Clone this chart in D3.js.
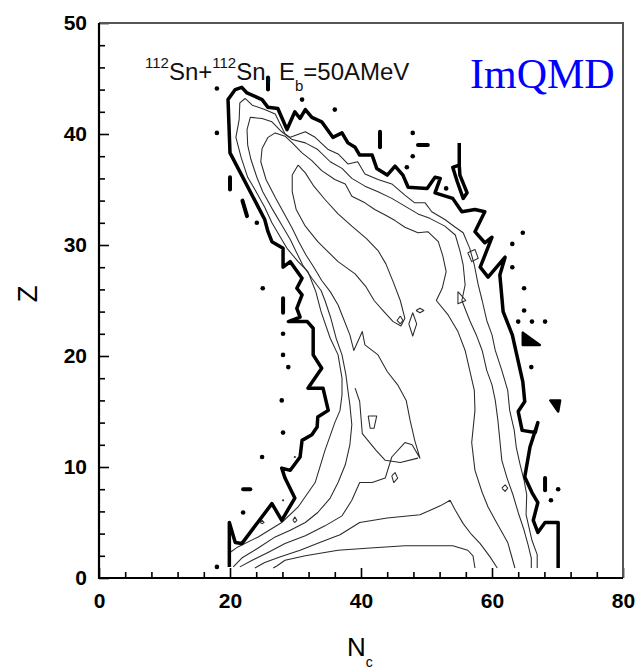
<!DOCTYPE html>
<html>
<head>
<meta charset="utf-8">
<script src="https://cdn.jsdelivr.net/npm/d3@7"></script>
<style>
  body { margin: 0; background: #fff; }
  svg { display: block; font-family: "Liberation Sans", Arial, sans-serif; }
</style>
</head>
<body>
<svg id="chart" width="636" height="672"></svg>
<script>
// tick values
var xMajor = [0, 20, 40, 60, 80];
var xMinor = [4, 8, 12, 16, 24, 28, 32, 36, 44, 48, 52, 56, 64, 68, 72, 76];
var yMajor = [0, 10, 20, 30, 40, 50];
var yMinor = [2, 4, 6, 8, 12, 14, 16, 18, 22, 24, 26, 28, 32, 34, 36, 38, 42, 44, 46, 48];

// outermost (thick) contour, [N_c, Z]
var thickContour = [[19.9,1.0],[19.9,5.0],[20.8,3.2],[21.8,3.1],[26.4,6.7],[27.9,5.2],[29.9,7.2],[28.4,9.0],[27.9,9.9],[29.2,9.7],[30.7,10.9],[31.0,12.4],[32.5,12.9],[33.3,13.6],[33.4,14.5],[35.0,15.1],[34.2,17.1],[31.9,17.1],[34.0,18.9],[32.7,20.1],[32.7,22.5],[31.8,23.1],[28.9,23.1],[30.7,23.5],[30.2,24.3],[31.0,25.5],[30.2,26.1],[31.0,27.0],[29.2,28.5],[28.1,28.0],[28.1,29.7],[26.4,30.3],[25.8,31.2],[25.3,32.3],[20.8,37.4],[20.0,38.3],[19.7,43.1],[20.8,44.0],[21.8,44.2],[22.6,43.7],[24.9,43.1],[25.8,42.4],[27.3,42.3],[28.7,40.4],[29.9,42.0],[30.7,41.4],[31.5,42.2],[32.5,41.5],[34.0,41.1],[35.7,39.7],[37.1,40.1],[38.0,39.2],[39.1,38.8],[39.8,38.1],[41.7,38.1],[42.4,36.9],[44.0,36.3],[45.2,37.1],[46.4,36.3],[47.2,35.2],[50.1,35.1],[51.3,36.1],[52.1,36.0],[51.3,34.7],[54.0,34.2],[55.4,33.0],[57.4,33.2],[58.9,33.0],[57.4,31.2],[58.9,30.2],[60.0,30.7],[58.2,28.0],[59.4,27.1],[62.0,28.9],[61.2,27.3],[61.7,24.0],[63.1,21.9],[64.7,17.7],[65.0,15.9],[64.0,15.0],[64.6,13.3],[66.6,13.1],[67.0,14.0],[65.8,11.8],[65.0,9.1],[66.1,7.7],[67.0,6.8],[66.3,5.2],[67.0,4.1],[68.1,5.0],[70.1,5.0],[70.1,0.9]];
var thickIsland = [[55.0,39.2],[55.0,37.2],[54.0,37.0],[54.7,35.7],[55.6,34.2],[56.2,34.7],[55.1,36.3],[55.0,37.2]];

// thin contour levels, outer to inner
var level1 = [[20.0,2.3],[21.2,2.8],[24.3,3.7],[27.9,5.0],[30.4,6.4],[33.0,8.6],[34.5,11.5],[36.0,14.0],[36.8,15.1],[37.1,16.5],[37.1,18.0],[36.5,20.1],[35.3,21.6],[33.9,24.0],[33.1,25.8],[32.7,26.4],[31.9,27.6],[30.4,28.5],[28.7,29.7],[27.9,30.5],[26.4,32.0],[25.3,33.4],[23.8,35.0],[22.7,36.1],[21.7,37.9],[20.9,39.7],[21.4,41.3],[21.5,42.8],[22.3,43.2],[23.4,42.6],[25.3,42.2],[26.9,41.8],[28.4,40.0],[29.2,39.7],[31.5,40.2],[33.0,39.7],[35.0,38.6],[36.5,38.2],[38.0,37.3],[39.5,37.5],[40.6,36.4],[42.6,35.9],[44.7,35.5],[46.7,34.5],[48.2,33.8],[49.8,33.8],[50.8,33.0],[52.8,32.3],[54.4,31.6],[55.6,31.1],[56.6,29.7],[57.3,28.2],[57.9,26.4],[58.5,25.0],[59.2,23.2],[60.0,21.9],[60.5,20.5],[61.5,18.7],[62.4,16.9],[62.7,15.1],[63.4,13.3],[63.7,11.8],[64.3,10.2],[64.9,8.8],[65.3,7.5],[65.2,5.7],[66.1,3.4],[66.9,2.1],[66.9,0.9]];
var level2 = [[20.5,1.0],[21.8,1.8],[24.3,2.7],[26.9,3.7],[29.2,4.3],[31.5,5.0],[33.4,5.9],[35.3,7.2],[36.5,8.6],[37.6,10.2],[38.3,12.0],[38.6,13.8],[38.3,15.6],[38.0,16.9],[37.7,18.3],[37.1,20.1],[36.2,21.6],[35.4,23.4],[34.5,25.0],[33.9,25.9],[32.5,27.0],[31.1,28.2],[30.1,29.4],[29.2,30.5],[27.9,31.8],[26.4,33.3],[25.0,34.8],[24.1,36.1],[23.2,37.7],[22.7,39.0],[22.6,40.4],[23.1,41.5],[24.9,41.4],[26.4,41.1],[27.9,40.2],[29.5,39.5],[31.5,39.2],[33.4,38.6],[35.3,37.5],[37.1,36.9],[38.6,36.0],[40.6,35.3],[42.6,34.8],[44.7,34.2],[46.7,33.5],[48.7,32.8],[50.5,32.4],[52.8,31.7],[54.4,30.9],[55.1,29.5],[55.6,28.2],[55.9,26.4],[55.4,25.0],[56.6,23.2],[57.6,21.9],[58.5,20.5],[59.2,18.7],[60.0,17.4],[60.5,16.0],[60.9,14.2],[61.2,12.4],[61.5,10.6],[62.3,9.0],[63.2,7.5],[64.0,5.9],[64.9,4.3],[65.5,3.0],[66.0,1.8],[66.0,0.9]];
var level3 = [[21.5,1.0],[23.4,1.6],[25.8,2.3],[28.4,3.1],[31.5,3.8],[34.5,4.7],[37.1,5.6],[38.6,7.0],[39.8,8.6],[41.7,8.6],[43.7,9.0],[44.7,10.9],[46.7,12.2],[47.8,12.0],[49.0,10.8],[48.2,12.4],[47.5,14.2],[46.9,16.0],[45.6,17.4],[44.0,18.6],[42.6,20.1],[40.6,21.0],[40.2,22.2],[38.9,20.5],[38.3,21.9],[37.3,23.4],[36.5,24.6],[35.3,25.8],[34.0,26.8],[32.8,28.0],[31.6,29.1],[30.5,30.3],[29.5,31.5],[28.2,32.9],[26.9,34.3],[25.5,35.9],[24.7,37.5],[24.9,38.7],[25.8,39.7],[26.9,40.1],[28.4,39.8],[29.5,39.2],[31.0,38.3],[32.5,37.6],[34.0,36.7],[36.0,35.9],[37.6,35.5],[38.6,34.4],[40.6,33.8],[42.1,33.2],[43.7,32.7],[45.2,32.2],[46.7,31.6],[48.7,31.1],[50.2,31.2],[51.8,30.3],[52.5,29.0],[53.0,27.6],[52.4,26.1],[51.5,25.0],[53.3,23.7],[54.8,22.2],[55.9,20.5],[56.6,18.7],[57.3,16.9],[57.4,15.1],[56.9,12.2],[57.4,9.7],[58.5,7.7],[59.4,6.4],[60.5,5.2],[62.4,3.2],[63.5,0.9]];
var level4 = [[23.8,0.9],[25.3,1.4],[27.6,1.9],[30.7,2.5],[33.7,3.2],[36.8,3.9],[39.8,5.0],[44.0,5.4],[49.0,5.7],[52.1,6.5],[53.6,7.0],[54.4,6.1],[55.6,4.9],[56.9,3.9],[58.2,3.1],[59.7,1.9],[60.8,0.9]];
var level5 = [[26.6,0.9],[27.2,1.1],[28.4,1.6],[31.5,2.0],[36.5,2.5],[41.4,2.7],[46.7,2.9],[54.0,2.9],[56.3,2.5],[57.1,2.0],[57.4,0.9]];
var ridge = [[30.4,37.2],[29.5,36.3],[29.5,34.8],[30.1,33.2],[31.5,31.7],[33.4,30.3],[36.5,28.5],[39.1,27.4],[40.8,26.2],[42.0,25.0],[43.5,24.0],[44.9,23.1],[46.1,22.7],[46.7,23.4],[46.0,25.0],[44.9,26.7],[43.8,28.3],[42.6,29.5],[40.8,30.6],[38.6,31.7],[36.5,32.8],[34.5,34.1],[32.8,35.3],[31.5,36.5],[30.4,37.2]];
var valley = [[39.1,17.1],[39.8,15.9],[40.2,13.0],[42.3,11.5],[43.7,10.6],[46.0,10.4],[48.7,10.8]];
var islands = [
  [[47.9,23.9],[48.5,22.9],[47.9,21.8],[47.3,22.9],[47.9,23.9]],
  [[46.0,23.6],[46.4,23.2],[46.0,22.9],[45.5,23.2],[46.0,23.6]],
  [[48.4,24.1],[49.0,24.3],[49.6,24.1],[49.0,23.9],[48.4,24.1]],
  [[56.3,29.3],[57.4,29.6],[57.9,28.8],[56.9,28.5],[56.3,29.3]],
  [[54.8,25.8],[56.0,25.0],[54.8,24.7],[54.8,25.8]],
  [[61.5,8.1],[62.0,8.4],[62.4,8.1],[62.0,7.8],[61.5,8.1]],
  [[41.1,14.6],[42.4,14.6],[42.0,13.5],[41.4,13.5],[41.1,14.6]],
  [[44.7,9.2],[45.2,9.5],[45.6,9.0],[45.0,8.6],[44.7,9.2]],
  [[24.6,5.0],[24.9,5.2],[25.2,5.0],[24.9,4.9],[24.6,5.0]],
  [[29.6,5.2],[29.9,5.5],[30.2,5.2],[29.9,5.0],[29.6,5.2]]
];

// isolated bins outside the outer contour
var specks = [[18.0,44.1],[18.0,40.1],[31.0,43.1],[36.0,42.2],[47.9,40.1],[47.9,38.0],[47.0,37.0],[53.0,35.1],[64.7,31.1],[63.1,30.1],[63.1,28.0],[64.9,26.1],[64.9,24.1],[64.0,23.1],[66.1,23.1],[68.1,23.1],[66.0,19.0],[24.1,32.0],[25.0,26.1],[28.1,22.0],[28.1,20.1],[28.9,19.0],[27.9,16.0],[28.1,13.1],[24.9,10.9],[22.0,5.9],[18.0,1.0],[70.1,8.0],[69.0,7.0]];
var smallSpecks = [[28.1,7.0],[29.9,10.9]];
var bars = [
  [[25.8,45.1],[25.8,44.0]],
  [[42.9,40.2],[42.9,38.8]],
  [[48.7,39.0],[50.2,39.0]],
  [[20.0,36.1],[20.0,35.0]],
  [[21.9,34.0],[22.6,32.6]],
  [[28.1,25.2],[28.1,23.9]],
  [[22.0,8.0],[23.1,8.0]],
  [[68.1,9.0],[68.1,7.9]]
];
var blobs = [
  [[64.7,22.1],[64.7,21.0],[67.3,21.0]],
  [[68.9,16.0],[70.4,16.0],[70.1,15.0]]
];

var svg = d3.select("#chart");

var x = d3.scaleLinear().domain([0, 80]).range([99, 623]);
var y = d3.scaleLinear().domain([0, 50]).range([578, 23]);

var line = d3.line()
  .x(function(d) { return x(d[0]); })
  .y(function(d) { return y(d[1]); });

var plot = svg.append("g");

// thin contours
plot.selectAll("path.thin")
  .data([level1, level2, level3, level4, level5, ridge, valley].concat(islands))
  .enter().append("path")
    .attr("class", "thin")
    .attr("d", line)
    .attr("fill", "none")
    .attr("stroke", "#2a2a2a")
    .attr("stroke-width", 1.05)
    .attr("stroke-linejoin", "round");

// thick outer contour
plot.selectAll("path.thick")
  .data([thickContour, thickIsland])
  .enter().append("path")
    .attr("class", "thick")
    .attr("d", line)
    .attr("fill", "none")
    .attr("stroke", "#000")
    .attr("stroke-width", 3.5)
    .attr("stroke-linejoin", "round");

plot.selectAll("path.blob")
  .data(blobs)
  .enter().append("path")
    .attr("d", function(d) { return line(d) + "Z"; })
    .attr("fill", "#000")
    .attr("stroke", "#000")
    .attr("stroke-width", 2.5)
    .attr("stroke-linejoin", "round");

plot.selectAll("path.bar")
  .data(bars)
  .enter().append("path")
    .attr("d", line)
    .attr("stroke", "#000")
    .attr("stroke-width", 4)
    .attr("stroke-linecap", "round");

plot.selectAll("circle.speck")
  .data(specks)
  .enter().append("circle")
    .attr("cx", function(d) { return x(d[0]); })
    .attr("cy", function(d) { return y(d[1]); })
    .attr("r", 2.3)
    .attr("fill", "#000");

plot.selectAll("circle.small")
  .data(smallSpecks)
  .enter().append("circle")
    .attr("cx", function(d) { return x(d[0]); })
    .attr("cy", function(d) { return y(d[1]); })
    .attr("r", 1.1)
    .attr("fill", "#333");

// axes
function styleAxis(g) {
  g.select(".domain").remove();
  g.selectAll(".tick line").attr("stroke", "#000").attr("stroke-width", 1.6);
  g.selectAll(".tick text")
    .attr("fill", "#000")
    .style("font-family", "'Liberation Sans', Arial, sans-serif")
    .style("font-size", "21px")
    .style("font-weight", "bold");
}

svg.append("g")
  .attr("transform", "translate(99,0)")
  .call(d3.axisLeft(y).tickValues(yMinor).tickSize(-6).tickFormat(""))
  .call(styleAxis);
svg.append("g")
  .attr("transform", "translate(99,0)")
  .call(d3.axisLeft(y).tickValues(yMajor).tickSize(-10).tickPadding(12))
  .call(styleAxis);
svg.append("g")
  .attr("transform", "translate(0,578)")
  .call(d3.axisBottom(x).tickValues(xMinor).tickSize(-6).tickFormat(""))
  .call(styleAxis);
svg.append("g")
  .attr("transform", "translate(0,578)")
  .call(d3.axisBottom(x).tickValues(xMajor).tickSize(-10).tickPadding(15))
  .call(styleAxis);

// frame: grey top/right, black left/bottom
svg.append("path")
  .attr("d", "M99,23H623V578")
  .attr("fill", "none")
  .attr("stroke", "#555")
  .attr("stroke-width", 2);
svg.append("path")
  .attr("d", "M99,23V578H623")
  .attr("fill", "none")
  .attr("stroke", "#000")
  .attr("stroke-width", 2.2);

// axis titles
svg.append("text")
  .attr("transform", "translate(37,294) rotate(-90)")
  .attr("text-anchor", "middle")
  .style("font-size", "28px")
  .text("Z");

var nLabel = svg.append("text")
  .attr("x", 347)
  .attr("y", 656)
  .style("font-size", "26px");
nLabel.append("tspan").text("N");
nLabel.append("tspan").attr("dy", 11).style("font-size", "14px").text("c");

// reaction annotation
var ann = svg.append("text")
  .attr("x", 145)
  .attr("y", 80)
  .attr("fill", "#111")
  .style("font-size", "24px");
ann.append("tspan").attr("dy", -12).style("font-size", "15px").text("112");
ann.append("tspan").attr("dy", 12).text("Sn+");
ann.append("tspan").attr("dy", -12).style("font-size", "15px").text("112");
ann.append("tspan").attr("dy", 12).text("Sn, E");
ann.append("tspan").attr("dy", 11).style("font-size", "15px").text("b");
ann.append("tspan").attr("dy", -11).text("=50AMeV");

svg.append("text")
  .attr("x", 470)
  .attr("y", 88)
  .attr("fill", "#0000ff")
  .style("font-family", "'Liberation Serif', 'Times New Roman', serif")
  .style("font-size", "42px")
  .text("ImQMD");
</script>
</body>
</html>
